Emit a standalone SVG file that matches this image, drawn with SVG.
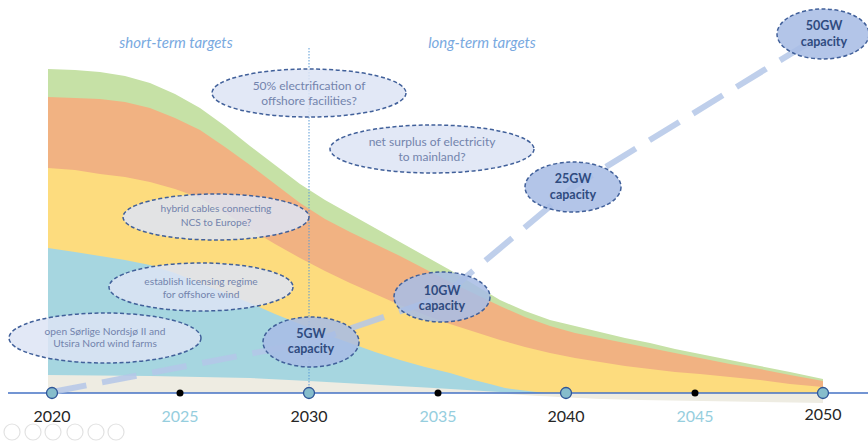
<svg xmlns="http://www.w3.org/2000/svg" width="868" height="441" viewBox="0 0 868 441">
<style>
.q{fill:#dde4f5;fill-opacity:0.86;stroke:#41609a;stroke-width:1.5;stroke-dasharray:4 2.5}
.c{fill:#a9bde5;fill-opacity:0.88;stroke:#41609a;stroke-width:1.5;stroke-dasharray:4 2.5}
.qt{font-family:Lato,"Liberation Sans",sans-serif;font-size:12px;fill:#7384ad;text-anchor:middle}
.qs{font-size:10.2px}
.ct{font-family:Lato,"Liberation Sans",sans-serif;font-size:12.5px;font-weight:bold;fill:#2f4b7f;text-anchor:middle}
.yr{font-family:Lato,"Liberation Sans",sans-serif;font-size:16px;text-anchor:middle}
.dk{fill:#262626}
.lt{fill:#96cede}
.ttl{font-family:Lato,"Liberation Sans",sans-serif;font-size:15px;font-style:italic;fill:#79a9df;text-anchor:middle}
.big{fill:#86bdcc;stroke:#2f5597;stroke-width:1.3}
.ico{fill:none;stroke:#e2e2e2;stroke-width:1.2}
</style>
<rect width="868" height="441" fill="#ffffff"/>
<g id="areas">
<path fill="#c6e1a6" d="M48,393 L48,69 L75,70 L100,72 L125,76 L150,83 L175,94 L200,108 L225,126 L250,146 L275,165 L300,184 L325,200 L350,214 L375,228 L400,242 L425,256 L450,270 L475,285 L500,300 L525,311 L550,320 L575,326 L600,332 L625,338 L650,343 L675,349 L700,354 L730,360 L760,366 L790,372 L823,379 L823,393 Z"/>
<path fill="#f1b282" d="M48,393 L48,97 L75,98 L100,99 L125,102 L150,108 L175,118 L200,130 L225,147 L250,165 L275,184 L300,203 L325,219 L350,232 L375,244 L400,256 L425,269 L450,282 L475,294 L500,306 L525,317 L550,326 L575,333 L600,338 L625,343 L650,348 L675,353 L700,358 L730,364 L760,369 L790,375 L823,381 L823,393 Z"/>
<path fill="#fddc7e" d="M48,393 L48,168 L75,170 L100,174 L125,177 L150,182 L175,189 L200,198 L225,213 L250,229 L275,244 L300,258 L325,271 L350,283 L375,294 L400,305 L425,315 L450,324 L475,332 L500,340 L525,347 L550,353 L575,358 L600,362 L625,366 L650,369 L675,372 L700,374 L730,377 L760,380 L790,384 L823,387 L823,393 Z"/>
<path fill="#a6d6e0" d="M48,393 L48,248 L75,252 L100,256 L125,260 L150,265 L175,273 L200,283 L225,293 L250,303 L275,314 L300,324 L325,334 L350,343 L375,352 L400,360 L425,367 L450,373 L470,379 L490,384 L505,388 L520,390 L545,393 Z"/>
<path fill="#eeece2" d="M48,393 L48,375 L150,376 L250,378 L309,381 L380,385 L434,388 L500,392 L530,393 Z"/>
<path fill="#eeece2" d="M490,393 C540,396 580,399 640,400 L823,403 L823,393 Z"/>
</g>
<g id="connectors">
<line x1="309" y1="48" x2="309" y2="393" stroke="#5b9bd5" stroke-width="1" stroke-dasharray="1.5 1.5"/>
<line x1="8" y1="393" x2="868" y2="393" stroke="#4472c4" stroke-width="1.6"/>
<polyline points="52,392 311,342 442,297 573,187 823,34" fill="none" stroke="#b4c7e7" stroke-opacity="0.85" stroke-width="6" stroke-dasharray="35 16"/>
</g>
<g id="titles">
<text class="ttl" x="176" y="48">short-term targets</text>
<text class="ttl" x="482" y="48">long-term targets</text>
</g>
<g id="q1"><ellipse class="q" cx="309" cy="93" rx="97" ry="24"/><text class="qt" x="309" y="90">50% electrification of</text><text class="qt" x="309" y="105">offshore facilities?</text></g>
<g id="q2"><ellipse class="q" cx="432" cy="149" rx="102" ry="24"/><text class="qt" x="432" y="146">net surplus of electricity</text><text class="qt" x="432" y="161">to mainland?</text></g>
<g id="q3"><ellipse class="q" cx="216" cy="217" rx="93" ry="23"/><text class="qt qs" x="216" y="212">hybrid cables connecting</text><text class="qt qs" x="216" y="226">NCS to Europe?</text></g>
<g id="q4"><ellipse class="q" cx="201" cy="287" rx="92" ry="24"/><text class="qt qs" x="201" y="285">establish licensing regime</text><text class="qt qs" x="201" y="298">for offshore wind</text></g>
<g id="q5"><ellipse class="q" cx="105" cy="338" rx="96" ry="25"/><text class="qt qs" x="105" y="335">open Sørlige Nordsjø II and</text><text class="qt qs" x="105" y="347">Utsira Nord wind farms</text></g>
<g id="c5"><ellipse class="c" cx="311" cy="342" rx="48" ry="25"/><text class="ct" x="311" y="338">5GW</text><text class="ct" x="311" y="353">capacity</text></g>
<g id="c10"><ellipse class="c" cx="442" cy="297" rx="48" ry="25"/><text class="ct" x="442" y="295">10GW</text><text class="ct" x="442" y="310">capacity</text></g>
<g id="c25"><ellipse class="c" cx="573" cy="187" rx="48" ry="25"/><text class="ct" x="573" y="183">25GW</text><text class="ct" x="573" y="199">capacity</text></g>
<g id="c50"><ellipse class="c" cx="823" cy="34" rx="46" ry="25"/><text class="ct" x="824" y="30">50GW</text><text class="ct" x="824" y="46">capacity</text></g>
<g id="axis">
<circle class="big" cx="52" cy="393" r="5.5"/>
<circle class="big" cx="309" cy="393" r="5.5"/>
<circle class="big" cx="566" cy="393" r="5.5"/>
<circle class="big" cx="823" cy="393" r="5.5"/>
<circle cx="180" cy="393" r="3.5" fill="#000"/>
<circle cx="438" cy="393" r="3.5" fill="#000"/>
<circle cx="695" cy="393" r="3.5" fill="#000"/>
<text class="yr dk" x="52" y="422">2020</text>
<text class="yr lt" x="180" y="422">2025</text>
<text class="yr dk" x="309" y="422">2030</text>
<text class="yr lt" x="438" y="422">2035</text>
<text class="yr dk" x="566" y="422">2040</text>
<text class="yr lt" x="695" y="422">2045</text>
<text class="yr dk" x="823" y="420">2050</text>
</g>
<g id="toolbar">
<circle class="ico" cx="12" cy="432" r="8"/>
<circle class="ico" cx="33" cy="432" r="8"/>
<circle class="ico" cx="53" cy="432" r="8"/>
<circle class="ico" cx="75" cy="432" r="8"/>
<circle class="ico" cx="96" cy="432" r="8"/>
<circle class="ico" cx="116" cy="432" r="8"/>
</g>
</svg>
